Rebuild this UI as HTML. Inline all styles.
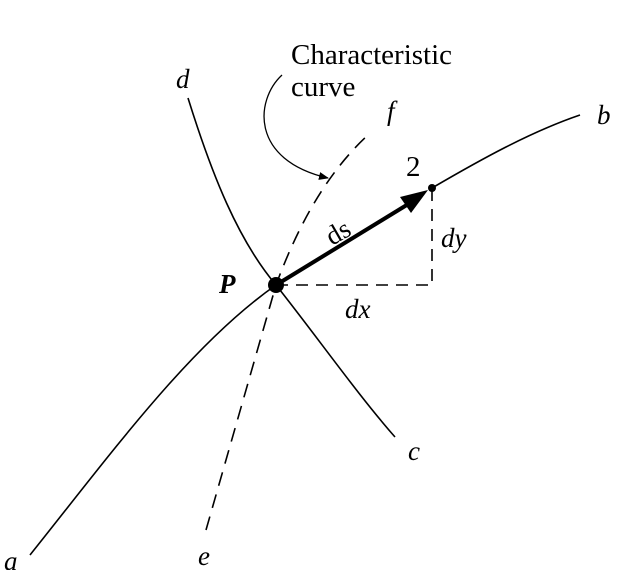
<!DOCTYPE html>
<html><head><style>body{margin:0;background:#fff}</style></head><body>
<svg width="644" height="570" viewBox="0 0 644 570" xmlns="http://www.w3.org/2000/svg" font-family="Liberation Serif, serif">
<defs><marker id="ah" markerWidth="10" markerHeight="8" refX="9" refY="4" orient="auto" markerUnits="userSpaceOnUse"><path d="M0,0 L10,4 L0,8 z" fill="#000"/></marker></defs>
<g fill="none" stroke="#000" stroke-width="1.6">
<path d="M30,555 C110,455 190,345 276,285"/>
<path d="M432,188 C480,160 530,132 580,115"/>
<path d="M188,98 C212,175 238,240 276,285 C318,338 358,395 395,437"/>
<path d="M206,530 L276,285 C300,220 330,170 368,135" stroke-dasharray="14,9"/>
<path d="M276,285 L432,285 L432,190" stroke-dasharray="12,8"/>
<path d="M282,75 C255,100 250,160 328,178" marker-end="url(#ah)" stroke-width="1.3"/>
</g>
<path d="M276,285 L410,203" stroke="#000" stroke-width="4"/>
<path d="M428,190 L400,197 L411,213 z" fill="#000"/>
<circle cx="276" cy="285" r="8" fill="#000"/>
<circle cx="432" cy="188" r="4" fill="#000"/>
<g font-size="29">
<text x="291" y="64">Characteristic</text>
<text x="291" y="96">curve</text>
<text x="406" y="176">2</text>
</g>
<g font-size="27" font-style="italic">
<text x="176" y="88">d</text>
<text x="387" y="120">f</text>
<text x="597" y="124">b</text>
<text x="219" y="293" font-weight="bold">P</text>
<text x="441" y="247">dy</text>
<text x="345" y="318">dx</text>
<text x="408" y="460">c</text>
<text x="198" y="565">e</text>
<text x="4" y="570">a</text>
<text x="332" y="246" font-style="normal" transform="rotate(-30 332 246)">ds</text>
</g>
</svg>
</body></html>
